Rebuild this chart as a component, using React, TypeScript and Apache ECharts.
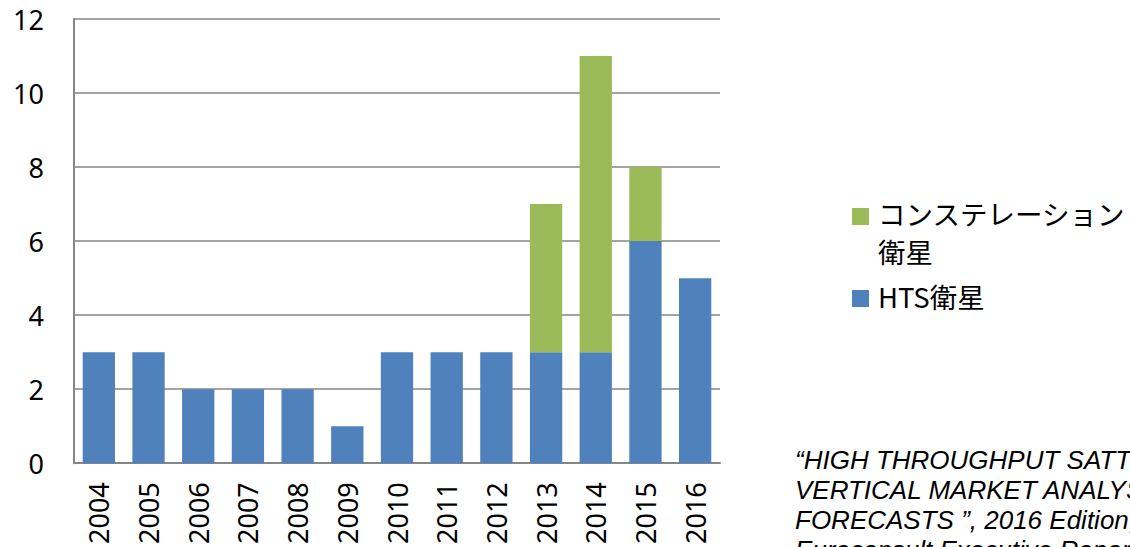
import React, { useEffect, useRef } from "react";
import * as echarts from "echarts";

const years = ["2004","2005","2006","2007","2008","2009","2010","2011","2012","2013","2014","2015","2016"];
const htsValues = [3, 3, 2, 2, 2, 1, 3, 3, 3, 3, 3, 6, 5];
const constellationValues = [0, 0, 0, 0, 0, 0, 0, 0, 0, 4, 8, 2, 0];
const yTicks = [0, 2, 4, 6, 8, 10, 12];
const sourceLines = [
  "“HIGH THROUGHPUT SATTELLITES",
  "VERTICAL MARKET ANALYSIS &",
  "FORECASTS ”, 2016 Edition,",
  "Euroconsult Executive Report",
];

const BLUE = "#4F81BD";
const GREEN = "#9BBB59";
const FONT = "'Noto Sans', 'Noto Sans CJK JP', sans-serif";
const JP = "'Noto Sans CJK JP', 'Noto Sans', sans-serif";

export default function App() {
  const ref = useRef<HTMLDivElement>(null);
  useEffect(() => {
    if (!ref.current) return;
    const chart = echarts.init(ref.current, null, { renderer: "svg" });
    chart.setOption({
      animation: false,
      backgroundColor: "#ffffff",
      grid: { left: 74, right: 410, top: 19, bottom: 82, containLabel: false },
      xAxis: {
        type: "category",
        data: years,
        axisLine: { show: true, lineStyle: { color: "#868686", width: 2 } },
        axisTick: { show: false },
        axisLabel: {
          rotate: 90,
          fontSize: 27,
          color: "#000",
          fontFamily: FONT,
          margin: 19,
        },
      },
      yAxis: {
        type: "value",
        min: 0,
        max: 12,
        interval: 2,
        axisLine: { show: true, lineStyle: { color: "#868686", width: 2 } },
        axisTick: { show: false },
        splitLine: { show: true, lineStyle: { color: "#868686", width: 1.5 } },
        axisLabel: {
          fontSize: 27,
          color: "#000",
          fontFamily: FONT,
          margin: 30,
          formatter: (v: number) => (yTicks.includes(v) ? String(v) : ""),
        },
      },
      series: [
        {
          name: "HTS衛星",
          type: "bar",
          stack: "total",
          data: htsValues,
          barCategoryGap: "35%",
          itemStyle: { color: BLUE },
        },
        {
          name: "コンステレーション衛星",
          type: "bar",
          stack: "total",
          data: constellationValues.map((v) => (v === 0 ? null : v)),
          barCategoryGap: "35%",
          itemStyle: { color: GREEN },
        },
      ],
      graphic: [
        { type: "rect", left: 852, top: 208, shape: { width: 17, height: 17 }, style: { fill: GREEN } },
        {
          type: "text",
          left: 878,
          top: 199,
          style: { text: "コンステレーション", fontSize: 27.5, fontFamily: JP, fill: "#000" },
        },
        {
          type: "text",
          left: 878,
          top: 237,
          style: { text: "衛星", fontSize: 27.5, fontFamily: JP, fill: "#000" },
        },
        { type: "rect", left: 852, top: 290, shape: { width: 17, height: 17 }, style: { fill: BLUE } },
        {
          type: "text",
          left: 878,
          top: 282,
          style: { text: "HTS衛星", fontSize: 27.5, fontFamily: JP, fill: "#000" },
        },
        ...sourceLines.map((line, i) => ({
          type: "text",
          left: 795,
          top: 447 + i * 30,
          style: {
            text: line,
            fontSize: 26,
            fontStyle: "italic",
            fontFamily: "'Liberation Sans', Arial, sans-serif",
            fill: "#000",
          },
        })),
      ],
    });
    return () => chart.dispose();
  }, []);
  return <div ref={ref} style={{ width: 1130, height: 547, position: "absolute", left: 0, top: 0 }} />;
}
